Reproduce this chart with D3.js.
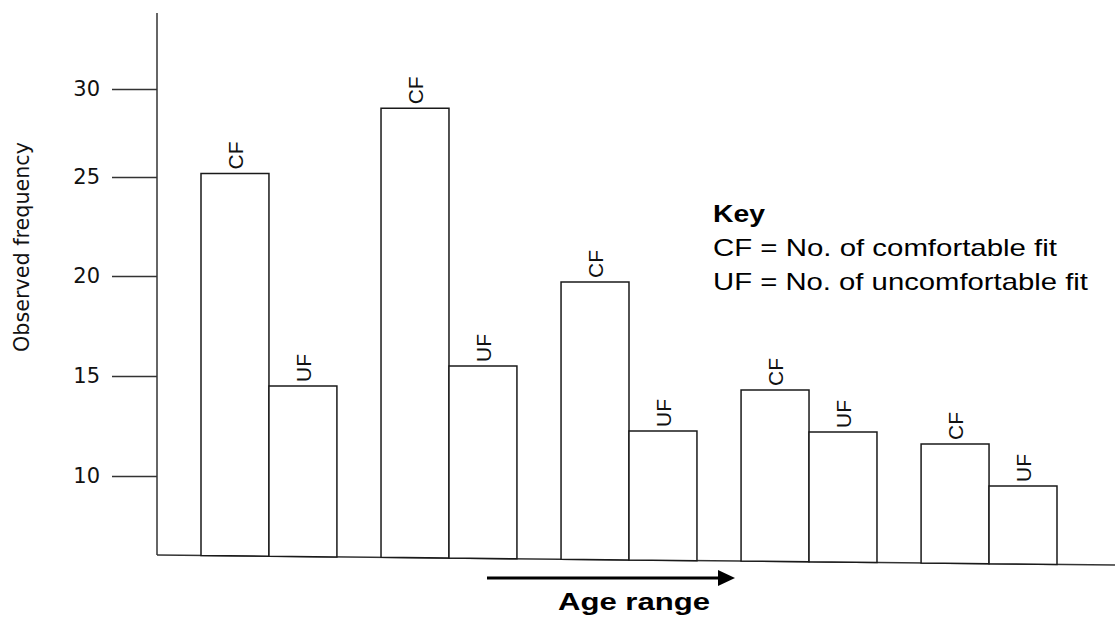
<!DOCTYPE html>
<html>
<head>
  <script src="https://d3js.org/d3.v7.min.js"></script>
  <style>
    body {
  margin: 0;
  background-color: #ffffff;
}

svg {
  display: block;
  background-color: #ffffff;
}

.bar {
  fill: #ffffff;
  stroke: #1a1a1a;
  stroke-width: 1.5px;
}

.axis-line {
  stroke: #333333;
  stroke-width: 1.5px;
}

.tick line {
  stroke: #333333;
  stroke-width: 1.5px;
}

.tick text {
  font-family: 'DejaVu Sans', sans-serif;
  font-size: 21px;
  fill: #111111;
}

.bar-label {
  font-family: 'Liberation Sans', Arial, sans-serif;
  font-size: 21px;
  fill: #111111;
}

.key {
  font-family: 'Liberation Sans', Arial, sans-serif;
  font-size: 24px;
  fill: #000000;
}
  </style>
</head>
<body>

<script>
// Age range groups (unlabelled on the original chart).
const groups = ["1", "2", "3", "4", "5"];
const series = ["CF", "UF"];

// Observed frequencies.
const cfValues = [25.2, 28.9, 19.7, 14.3, 11.6];
const ufValues = [14.5, 15.5, 12.25, 12.2, 9.5];

// Tick labels on the y axis.
const yTicks = [10, 15, 20, 25, 30];

const keyLines = [
  "CF = No. of comfortable fit",
  "UF = No. of uncomfortable fit",
];

const width = 1115;
const height = 617;

const data = groups.map((g, i) => ({ group: g, CF: cfValues[i], UF: ufValues[i] }));

const svg = d3.select("body")
  .append("svg")
  .attr("width", width)
  .attr("height", height);

// The original axis spacing is slightly uneven, so use a piecewise scale.
const y = d3.scaleLinear()
  .domain([6, 10, 15, 20, 25, 30])
  .range([556, 476, 376, 276, 177, 89]);

const x0 = d3.scaleBand()
  .domain(groups)
  .range([201, 1057])
  .paddingInner(0.245)
  .paddingOuter(0);

const x1 = d3.scaleBand()
  .domain(series)
  .range([0, x0.bandwidth()]);

// The base line on the original is drawn slightly slanted.
const axisX = 157;
const base = d3.scaleLinear()
  .domain([axisX, width])
  .range([555, 565]);

// x axis
svg.append("line")
  .attr("class", "axis-line")
  .attr("x1", axisX)
  .attr("y1", base(axisX))
  .attr("x2", width)
  .attr("y2", base(width));

// y axis
svg.append("line")
  .attr("class", "axis-line")
  .attr("x1", axisX)
  .attr("y1", 13)
  .attr("x2", axisX)
  .attr("y2", base(axisX));

svg.append("g")
  .attr("transform", `translate(${axisX},0)`)
  .call(d3.axisLeft(y).tickValues(yTicks).tickSize(45).tickPadding(12))
  .call(g => g.select(".domain").remove());

svg.append("text")
  .attr("transform", "translate(29,247) rotate(-90)")
  .attr("text-anchor", "middle")
  .attr("font-family", "'DejaVu Sans', sans-serif")
  .attr("font-size", 21)
  .attr("fill", "#111")
  .attr("textLength", 210)
  .attr("lengthAdjust", "spacingAndGlyphs")
  .text("Observed frequency");

// bars
const groupsG = svg.selectAll(".group")
  .data(data)
  .enter()
  .append("g")
  .attr("class", "group")
  .attr("transform", d => `translate(${x0(d.group)},0)`);

const cells = groupsG.selectAll(".cell")
  .data(d => series.map(s => ({ key: s, value: d[s], gx: x0(d.group) })))
  .enter()
  .append("g")
  .attr("class", "cell");

cells.append("path")
  .attr("class", "bar")
  .attr("d", d => {
    const xl = x1(d.key);
    const xr = xl + x1.bandwidth();
    const top = y(d.value);
    return `M${xl},${base(d.gx + xl)}V${top}H${xr}V${base(d.gx + xr)}Z`;
  });

cells.append("text")
  .attr("class", "bar-label")
  .attr("transform", d => `translate(${x1(d.key) + x1.bandwidth() / 2 + 8},${y(d.value) - 4}) rotate(-90)`)
  .text(d => d.key);

// key
const key = svg.append("g").attr("class", "key");

key.append("text")
  .attr("x", 713)
  .attr("y", 222)
  .attr("font-weight", "bold")
  .attr("textLength", 52)
  .attr("lengthAdjust", "spacingAndGlyphs")
  .text("Key");

key.selectAll(".key-line")
  .data(keyLines)
  .enter()
  .append("text")
  .attr("class", "key-line")
  .attr("x", 713)
  .attr("y", (d, i) => 256 + i * 34)
  .attr("textLength", (d, i) => i === 0 ? 344 : 375)
  .attr("lengthAdjust", "spacingAndGlyphs")
  .text(d => d);

// age range arrow
svg.append("line")
  .attr("x1", 487)
  .attr("y1", 578)
  .attr("x2", 720)
  .attr("y2", 578)
  .attr("stroke", "#000")
  .attr("stroke-width", 3);

svg.append("path")
  .attr("d", "M718,570L735,578L718,586Z")
  .attr("fill", "#000");

svg.append("text")
  .attr("class", "key")
  .attr("x", 634)
  .attr("y", 610)
  .attr("text-anchor", "middle")
  .attr("font-weight", "bold")
  .attr("textLength", 152)
  .attr("lengthAdjust", "spacingAndGlyphs")
  .text("Age range");
</script>
</body>
</html>
